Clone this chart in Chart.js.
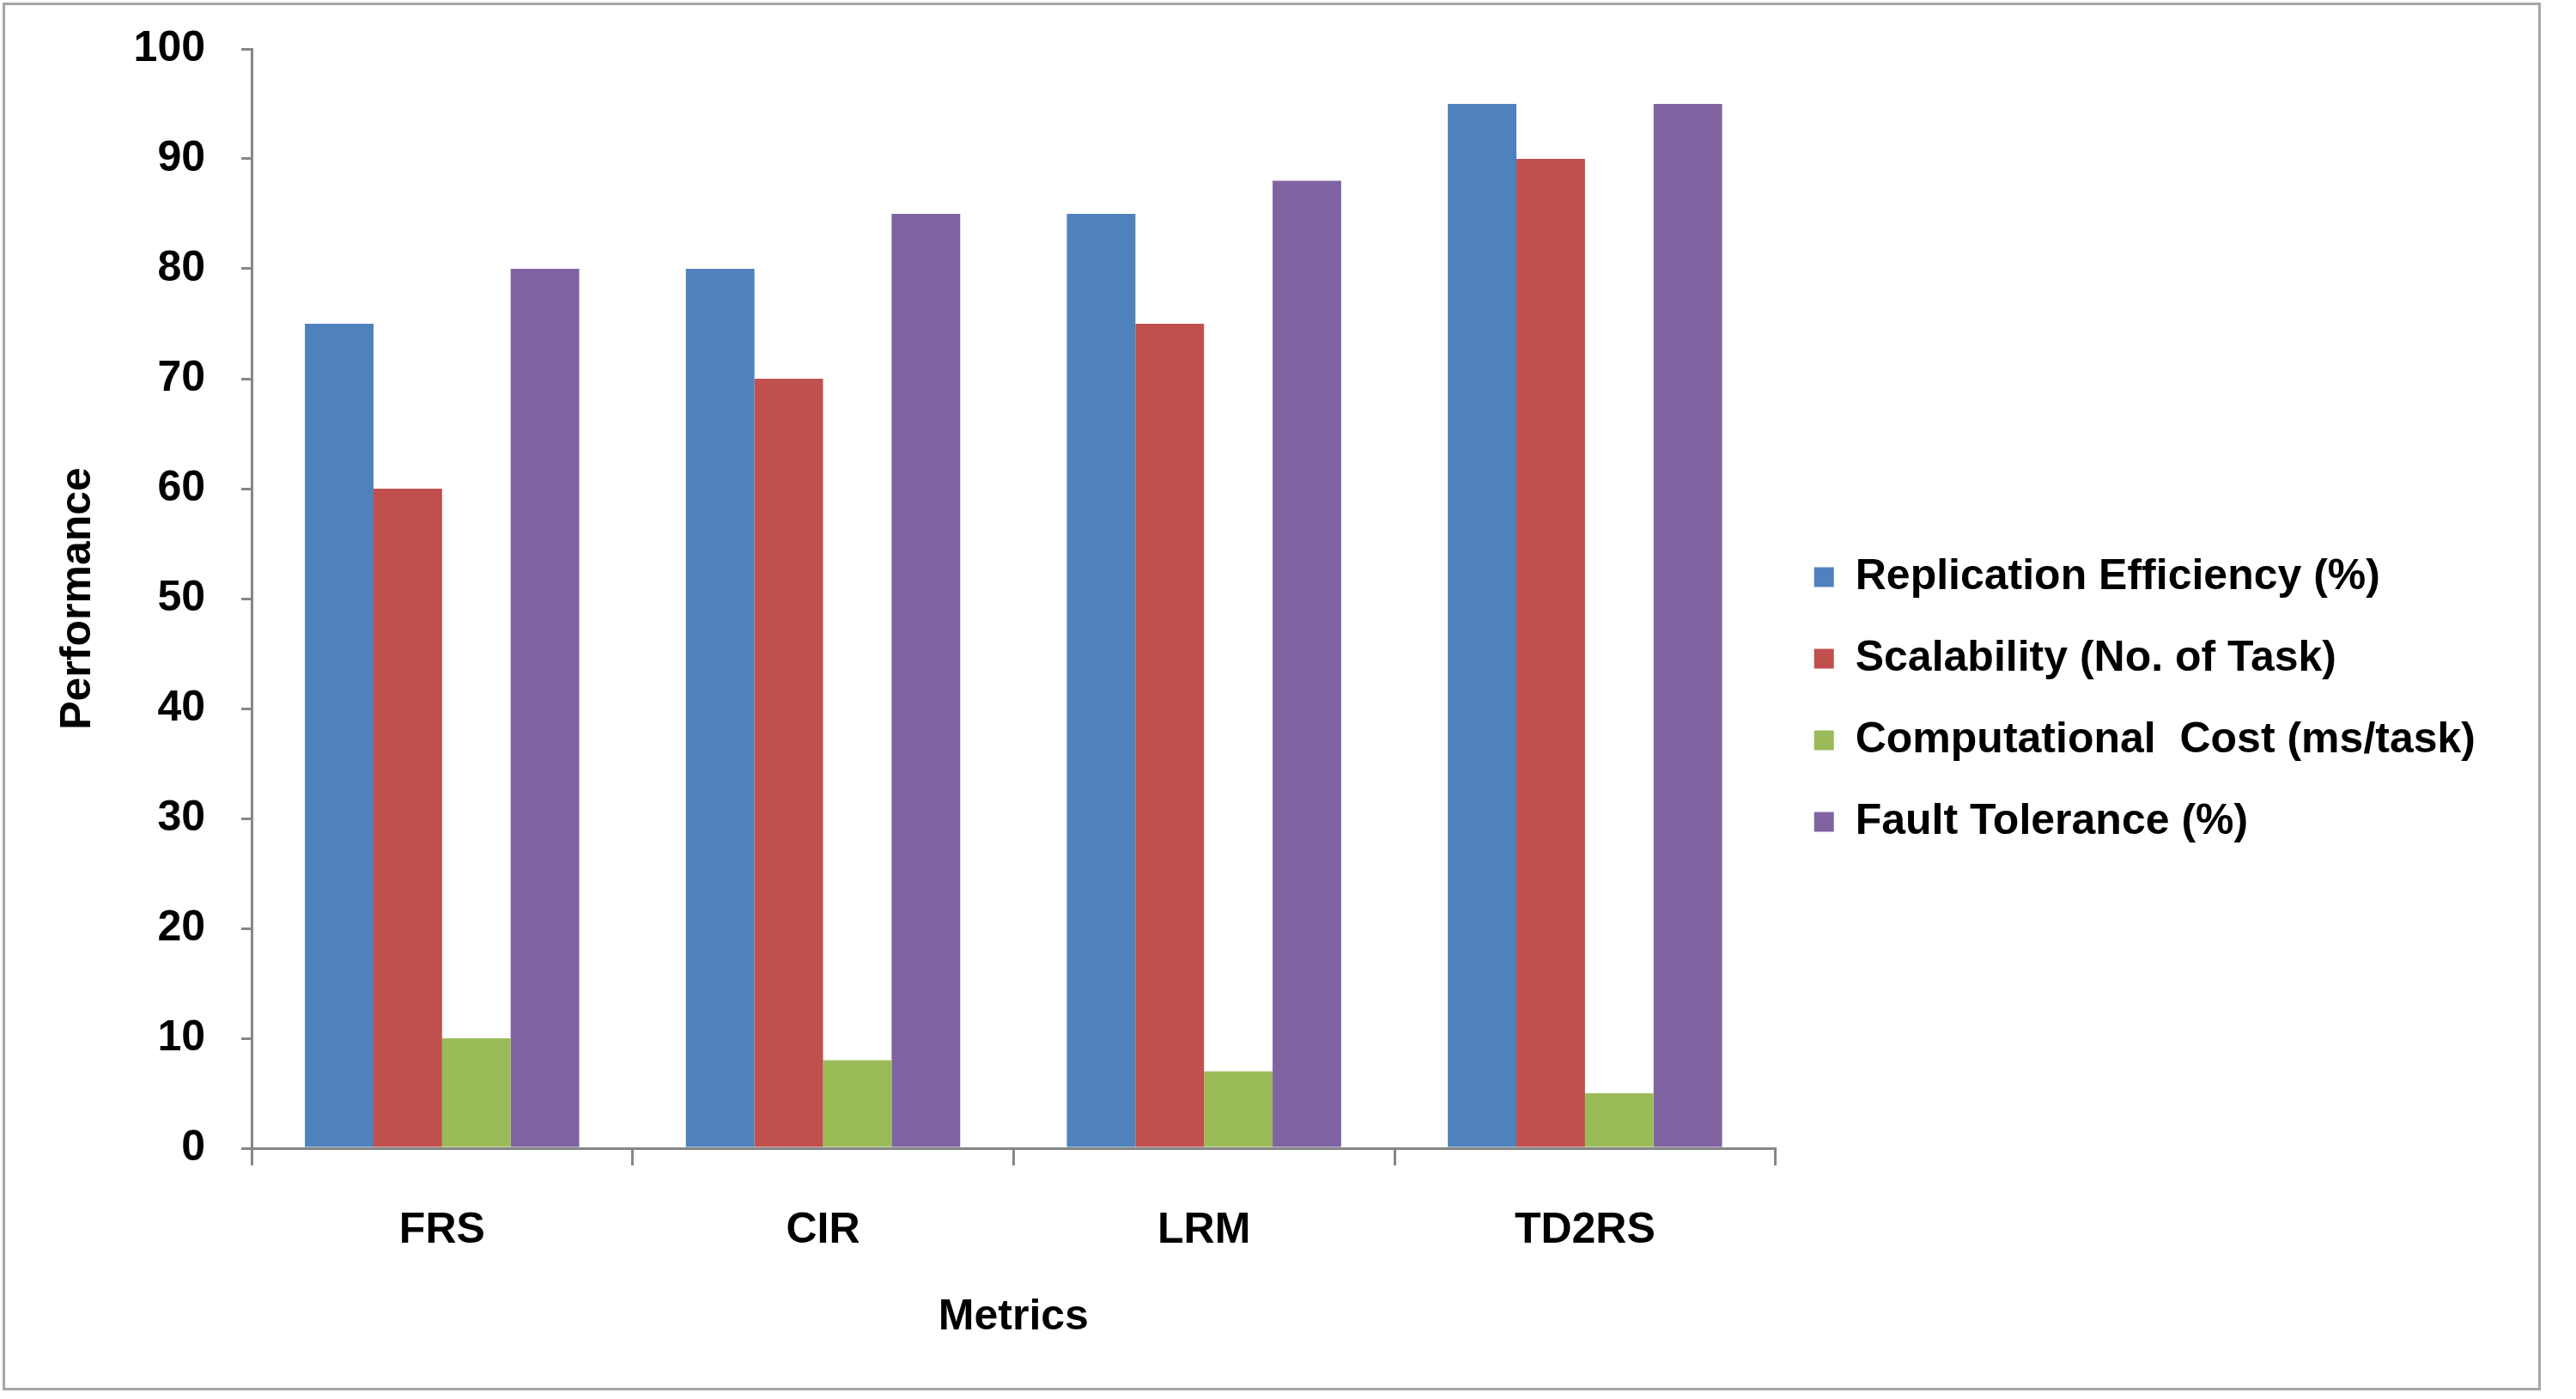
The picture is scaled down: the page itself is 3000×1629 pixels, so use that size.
<!DOCTYPE html>
<html>
<head>
<meta charset="utf-8">
<script src="https://cdn.jsdelivr.net/npm/chart.js@4/dist/chart.umd.min.js"></script>
<style>
  html, body { margin: 0; padding: 0; background: #fff; }
  #wrap { position: relative; width: 3000px; height: 1629px; }
  #frame { position: absolute; left: 3px; top: 3px; width: 2950px; height: 1610px;
           border: 3px solid #a6a6a6; pointer-events: none; }
</style>
</head>
<body>
<div id="wrap">
  <canvas id="myChart" width="3000" height="1629"></canvas>
  <div id="frame"></div>
</div>
<script>
// chart data
var categories = ['FRS', 'CIR', 'LRM', 'TD2RS'];
var seriesNames = ['Replication Efficiency (%)', 'Scalability (No. of Task)', 'Computational  Cost (ms/task)', 'Fault Tolerance (%)'];
var replication = [75, 80, 85, 95];
var scalability = [60, 70, 75, 90];
var compCost = [10, 8, 7, 5];
var faultTol = [80, 85, 88, 95];
var yTicks = [0, 10, 20, 30, 40, 50, 60, 70, 80, 90, 100];

var colors = ['#4F81BD', '#C0504D', '#9BBB59', '#8064A2'];
var values = [replication, scalability, compCost, faultTol];

Chart.defaults.font.family = '"Liberation Sans", Arial, sans-serif';
Chart.defaults.font.weight = 'bold';
Chart.defaults.color = '#000';

var datasets = [];
for (var i = 0; i < seriesNames.length; i++) {
    datasets.push({
        label: seriesNames[i],
        data: values[i],
        backgroundColor: colors[i],
        borderWidth: 0,
        categoryPercentage: 0.72,
        barPercentage: 1.0
    });
}

const config = {
    type: 'bar',
    data: { labels: categories, datasets: datasets },
    options: {
        responsive: false,
        animation: false,
        devicePixelRatio: 1,
        layout: { padding: { left: 30, top: 40, right: 107, bottom: 40 } },
        plugins: {
            tooltip: { enabled: false },
            legend: {
                position: 'right',
                maxWidth: 1000,
                labels: {
                    boxWidth: 23,
                    boxHeight: 23,
                    padding: 45,
                    font: { size: 50, weight: 'bold' },
                    color: '#000'
                }
            }
        },
        scales: {
            x: {
                grid: { display: true, drawOnChartArea: false, drawTicks: true, tickLength: 20,
                        tickColor: '#868686', lineWidth: 3, offset: true },
                border: { display: true, color: '#868686', width: 3 },
                ticks: { padding: 46, font: { size: 50, weight: 'bold' }, color: '#000' },
                title: { display: true, text: 'Metrics', font: { size: 50, weight: 'bold' },
                         color: '#000', padding: { top: 30, bottom: 25 } },
                afterFit: function(scale) { scale.height = 1629 - 40 - 1337; }
            },
            y: {
                min: 0,
                max: 100,
                afterBuildTicks: function(scale) {
                    scale.ticks = yTicks.map(function(v) { return { value: v }; });
                },
                grid: { display: true, drawOnChartArea: false, drawTicks: true, tickLength: 12,
                        tickColor: '#868686', lineWidth: 3 },
                border: { display: true, color: '#868686', width: 3 },
                ticks: { padding: 42, font: { size: 50, weight: 'bold', lineHeight: 0.6 }, color: '#000' },
                title: { display: true, text: 'Performance', font: { size: 50, weight: 'bold' },
                         color: '#000', padding: { top: 31, bottom: 10 } },
                afterFit: function(scale) { scale.width = 293 - 30; }
            }
        }
    }
};

const myChart = new Chart(document.getElementById('myChart'), config);
</script>
</body>
</html>
